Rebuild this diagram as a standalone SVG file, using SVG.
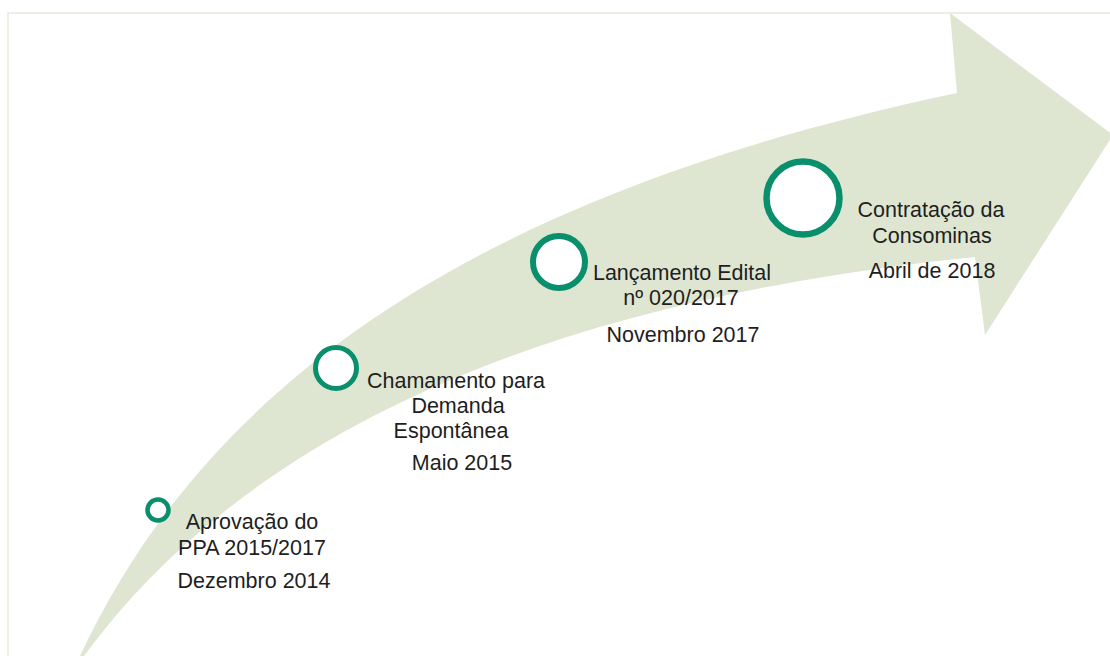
<svg xmlns="http://www.w3.org/2000/svg" width="1110" height="656" viewBox="0 0 1110 656">
  <style>
    .frame { fill: none; stroke: #ede8dc; stroke-width: 1.5; }
    .band { fill: #dee6d1; stroke: none; }
    .ring { fill: #ffffff; stroke: #0a8f6c; }
    .lbl { font-family: "Liberation Sans", Arial, sans-serif; font-size: 21.5px; fill: #1e1e1e; text-anchor: middle; }
  </style>
  <rect x="0" y="0" width="1110" height="656" fill="#ffffff"/>
  <rect class="frame" x="8" y="13" width="1120" height="660"/>
  <g id="connectors">
    <path id="arrow" class="band" d="M80,656 C200,400 450,200 957,93 L950,13 L1113,135 L985,335 L975,257 C550,300 250,430 84,656 Z"/>
  </g>
  <g id="node-ppa">
    <circle class="ring" cx="158" cy="510" r="10.5" stroke-width="4.5"/>
    <text class="lbl" x="252" y="529">Aprovação do</text>
    <text class="lbl" x="252" y="555">PPA 2015/2017</text>
    <text class="lbl" x="254" y="588">Dezembro 2014</text>
  </g>
  <g id="node-chamamento">
    <circle class="ring" cx="336" cy="368" r="20.5" stroke-width="5"/>
    <text class="lbl" x="456" y="388">Chamamento para</text>
    <text class="lbl" x="458" y="413">Demanda</text>
    <text class="lbl" x="451" y="438">Espontânea</text>
    <text class="lbl" x="462" y="470">Maio 2015</text>
  </g>
  <g id="node-edital">
    <circle class="ring" cx="559" cy="262" r="26" stroke-width="6"/>
    <text class="lbl" x="682" y="280">Lançamento Edital</text>
    <text class="lbl" x="681" y="305">nº 020/2017</text>
    <text class="lbl" x="683" y="342">Novembro 2017</text>
  </g>
  <g id="node-consominas">
    <circle class="ring" cx="803" cy="198" r="36.5" stroke-width="6.5"/>
    <text class="lbl" x="931" y="217">Contratação da</text>
    <text class="lbl" x="932" y="243">Consominas</text>
    <text class="lbl" x="932" y="278">Abril de 2018</text>
  </g>
</svg>
